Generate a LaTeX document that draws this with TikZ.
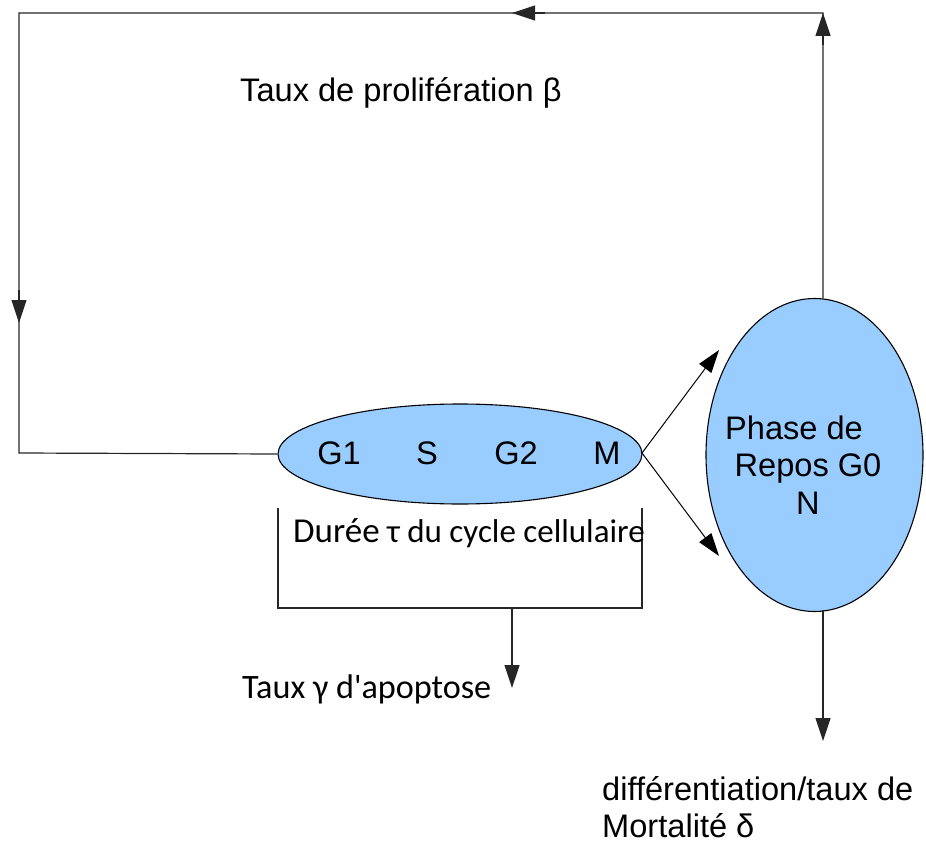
\documentclass[tikz,border=0pt]{standalone}
\usepackage{fontspec}
\setmainfont{Liberation Sans}
\newfontfamily\carl{Carlito}
\usetikzlibrary{shapes.geometric,arrows.meta}
\definecolor{cellblue}{HTML}{99CCFF}
\begin{document}
\begin{tikzpicture}[x=1pt,y=-1pt,
  conn/.style={draw=black!85,line width=1.2pt},
  tipline/.style={draw=black!85,line width=1.2pt,-{Triangle[length=23pt,width=15pt]}},
  cell/.style={ellipse,draw=black,line width=1.1pt,fill=cellblue,inner sep=0pt},
  lbl/.style={inner sep=0pt,font=\fontsize{32.6}{37.5}\selectfont},
  clbl/.style={inner sep=0pt,font=\carl\fontsize{33}{37}\selectfont}]
\useasboundingbox (0,0) rectangle (926,843);
% cells
\node[cell,minimum width=364pt,minimum height=100pt] (c1) at (460,454) {};
\node[cell,minimum width=217pt,minimum height=313pt] (c2) at (814.5,455) {};
% phase labels
\node[lbl] (g1) at (339,453) {G1};
\node[lbl] (s) at (427,453) {S};
\node[lbl] (g2) at (516,453) {G2};
\node[lbl] (m) at (607,453) {M};
\node[lbl,align=center] (g0) at (808,465) {Phase de\hspace*{28pt}\\Repos G0\\N};
% feedback loop
\coordinate (tr) at (823,13);
\coordinate (tl) at (19,13);
\coordinate (bl) at (19,453);
\coordinate (c2top) at (823,298.5);
\draw[conn] (c2top) -- (tr) -- (tl) -- (bl) -- (c1.west);
\draw[tipline] (823,45) -- (tr);
\draw[tipline] (545,13) -- (512,13);
\draw[tipline] (19,290) -- (19,323);
\node[lbl,anchor=west] (prolif) at (240,93) {Taux de prolifération β};
% division arrows
\coordinate (mr) at (642,453);
\coordinate (up) at (719,350);
\coordinate (dn) at (719,556);
\draw[draw=black,line width=1pt,-{Triangle[length=23pt,width=15pt]}] (mr) -- (up);
\draw[draw=black,line width=1pt,-{Triangle[length=23pt,width=15pt]}] (mr) -- (dn);
% bracket
\coordinate (b1) at (278,508);
\coordinate (b2) at (278,608);
\coordinate (b3) at (642,608);
\coordinate (b4) at (642,508);
\draw[conn] (b1) -- (b2) -- (b3) -- (b4);
\coordinate (apo1) at (512,608);
\coordinate (apo2) at (512,688);
\draw[tipline] (apo1) -- (apo2);
\node[clbl,anchor=west] (duree) at (293,533) {{\fontsize{35}{37}\selectfont Durée} τ du cycle cellulaire};
\node[clbl,anchor=west] (apo) at (242,689) {\fontsize{34.2}{37}\selectfont Taux γ d'apoptose};
% differentiation
\coordinate (c2bot) at (823,610);
\coordinate (diff) at (823,741);
\draw[tipline] (c2bot) -- (diff);
\node[lbl,anchor=west,align=left] (difflbl) at (602,807) {différentiation/taux de\\Mortalité δ};
\end{tikzpicture}
\end{document}
